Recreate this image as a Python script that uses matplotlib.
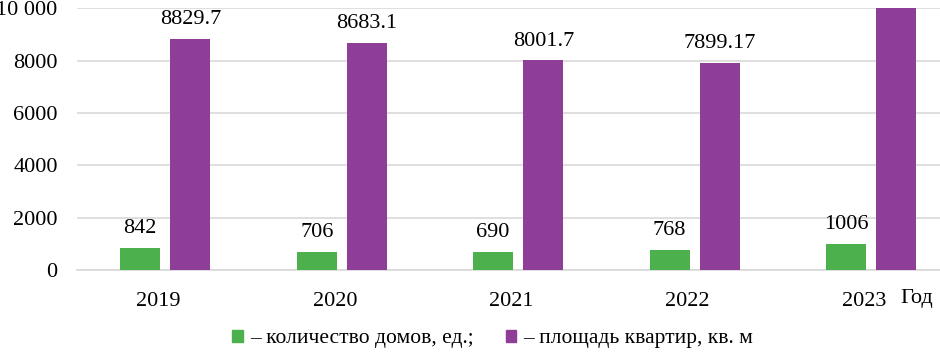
import matplotlib.pyplot as plt
from matplotlib.patches import Patch
from matplotlib.transforms import ScaledTranslation

plt.rcParams['font.family'] = ['Liberation Serif', 'DejaVu Serif']

# Data
years = ['2019', '2020', '2021', '2022', '2023']
houses = [842, 706, 690, 768, 1006]            # количество домов, ед.
area = [8829.7, 8683.1, 8001.7, 7899.17, 10500]  # площадь квартир, кв. м (2023 clipped above the axis)
area_labels = ['8829.7', '8683.1', '8001.7', '7899.17', '']
y_ticks = [0, 2000, 4000, 6000, 8000, 10000]
y_tick_labels = ['0', '2000', '4000', '6000', '8000', '10 000']

green = '#4cb04c'
purple = '#8e3e96'
fs = 16

fig = plt.figure(figsize=(9.4, 3.53), dpi=100)
ax = fig.add_axes([0.082, 0.235, 0.918, 0.742])

x = list(range(len(years)))
w = 0.227
off = 0.142
ax.bar([i - off for i in x], houses, width=w, color=green, zorder=3)
ax.bar([i + off for i in x], area, width=w, color=purple, zorder=3)

for i in x:
    ax.annotate(str(houses[i]), (i - off, houses[i]), xytext=(0, 7), textcoords='offset points',
                ha='center', va='bottom', fontsize=fs)
    if area_labels[i]:
        ax.annotate(area_labels[i], (i + off, area[i]), xytext=(0, 7), textcoords='offset points',
                    ha='center', va='bottom', fontsize=fs)

ax.set_ylim(0, 10000)
ax.set_xlim(-0.5, 4.39)
ax.set_yticks(y_ticks)
ax.set_yticklabels(y_tick_labels, fontsize=fs)
ax.set_xticks(x)
ax.set_xticklabels(years, fontsize=fs)
ax.tick_params(axis='both', length=0)
ax.tick_params(axis='x', pad=16)
ax.tick_params(axis='y', pad=14)
# year labels sit slightly left of the group centre in the reference
shift = ScaledTranslation(-7 / 100, 0, fig.dpi_scale_trans)
for lbl in ax.get_xticklabels():
    lbl.set_transform(lbl.get_transform() + shift)

ax.grid(axis='y', color='#d9d9d9', linewidth=1.2, zorder=0)
for s in ax.spines.values():
    s.set_visible(False)
ax.spines['bottom'].set_visible(True)
ax.spines['bottom'].set_color('#d9d9d9')
ax.spines['bottom'].set_linewidth(1.2)

fig.text(0.975, 0.155, 'Год', fontsize=fs, ha='center', va='center')

handles = [Patch(color=green), Patch(color=purple)]
fig.legend(handles, ['– количество домов, ед.;', '– площадь квартир, кв. м'],
           loc='center', bbox_to_anchor=(0.524, 0.04), ncol=2, frameon=False,
           fontsize=15.5, handlelength=0.5, handleheight=0.5, handletextpad=0.3, columnspacing=1.5)

fig.savefig('out.png', dpi=100)
